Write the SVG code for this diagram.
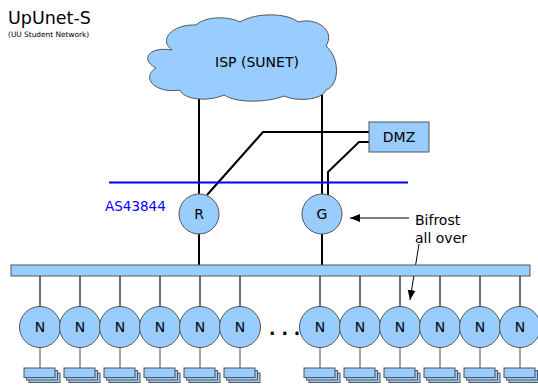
<svg xmlns="http://www.w3.org/2000/svg" width="538" height="385" viewBox="0 0 538 385">
<style>
text{font-family:"DejaVu Sans","Liberation Sans",sans-serif;fill:#000}
.shape{fill:#99ccff;stroke:#555;stroke-width:1}
.thick{stroke:#000;stroke-width:2;fill:none}
.bus-link{stroke:#222;stroke-width:1.3;fill:none}
.stack-link{stroke:#444;stroke-width:1;fill:none}
.lbl{font-size:14px;text-anchor:middle}
.thin{stroke:#000;stroke-width:1;fill:none}
</style>
<defs>
<marker id="ah" viewBox="0 0 10 10" refX="10" refY="5" markerWidth="10" markerHeight="10" markerUnits="userSpaceOnUse" orient="auto">
<path d="M0,1 L10,5 L0,9 Z" fill="#000"/>
</marker>
<g id="stack">
<rect class="shape" x="5" y="5" width="31" height="9.5"/>
<rect class="shape" x="2.5" y="2.5" width="31" height="9.5"/>
<rect class="shape" x="0" y="0" width="31" height="9.5"/>
</g>
</defs>
<g id="title">
<text x="8" y="24" style="font-size:17.5px">UpUnet-S</text>
<text x="8" y="37" style="font-size:7.4px">(UU Student Network)</text>
</g>
<g id="connectors">
<path class="thick" d="M199,80 V194"/>
<path class="thick" d="M322,80 V194"/>
<path class="thick" d="M369,132 H263 L207,195"/>
<path class="thick" d="M369,142 H359 L328,172 V195"/>
<path class="thick" d="M199,234 V265"/>
<path class="thick" d="M322,234 V265"/>
<line x1="109" y1="182.5" x2="408" y2="182.5" stroke="#0000ff" stroke-width="2"/>
<path class="thin" d="M409,218 H350" marker-end="url(#ah)"/>
<path class="thin" d="M419,244 L410,300" marker-end="url(#ah)"/>
<g id="n-links">
<path class="bus-link" d="M40,276V307M80,276V307M120,276V307M160,276V307M200,276V307M240,276V307M320,276V307M360,276V307M400,276V307M440,276V307M480,276V307M520,276V307"/>
<path class="stack-link" d="M40,348V368M80,348V368M120,348V368M160,348V368M200,348V368M240,348V368M320,348V368M360,348V368M400,348V368M440,348V368M480,348V368M520,348V368"/>
</g>
</g>
<g id="isp">
<path class="shape" d="M172,50 C158,40 172,24 196,25 C206,16 228,16 240,22 C256,12 288,13 298,22 C316,17 336,30 326,46 C340,58 340,85 326,90 C322,100 298,102 284,96 C266,103 236,103 224,95 C208,102 184,100 180,90 C156,94 140,78 156,68 C140,60 148,46 172,50 Z"/>
<text class="lbl" x="257" y="67">ISP (SUNET)</text>
</g>
<g id="dmz">
<rect class="shape" x="369" y="122" width="60" height="30"/>
<text class="lbl" x="399" y="142">DMZ</text>
</g>
<g id="as">
<text x="105" y="211" style="font-size:13.5px;fill:#0000ff">AS43844</text>
</g>
<g id="R">
<circle class="shape" cx="199" cy="214" r="20"/>
<text class="lbl" x="199" y="219">R</text>
</g>
<g id="G">
<circle class="shape" cx="322" cy="214" r="20"/>
<text class="lbl" x="322" y="219">G</text>
</g>
<g id="bifrost">
<text x="415" y="225" style="font-size:14px">Bifrost</text>
<text x="415" y="243" style="font-size:14px">all over</text>
</g>
<g id="bus">
<rect class="shape" x="11" y="265" width="519" height="11"/>
</g>
<g id="nodes">
<g id="n1"><circle class="shape" cx="40" cy="327" r="20.5"/><text class="lbl" x="40" y="332">N</text><use href="#stack" x="24" y="368"/></g>
<g id="n2"><circle class="shape" cx="80" cy="327" r="20.5"/><text class="lbl" x="80" y="332">N</text><use href="#stack" x="64" y="368"/></g>
<g id="n3"><circle class="shape" cx="120" cy="327" r="20.5"/><text class="lbl" x="120" y="332">N</text><use href="#stack" x="104" y="368"/></g>
<g id="n4"><circle class="shape" cx="160" cy="327" r="20.5"/><text class="lbl" x="160" y="332">N</text><use href="#stack" x="144" y="368"/></g>
<g id="n5"><circle class="shape" cx="200" cy="327" r="20.5"/><text class="lbl" x="200" y="332">N</text><use href="#stack" x="184" y="368"/></g>
<g id="n6"><circle class="shape" cx="240" cy="327" r="20.5"/><text class="lbl" x="240" y="332">N</text><use href="#stack" x="224" y="368"/></g>
<g id="n7"><circle class="shape" cx="320" cy="327" r="20.5"/><text class="lbl" x="320" y="332">N</text><use href="#stack" x="304" y="368"/></g>
<g id="n8"><circle class="shape" cx="360" cy="327" r="20.5"/><text class="lbl" x="360" y="332">N</text><use href="#stack" x="344" y="368"/></g>
<g id="n9"><circle class="shape" cx="400" cy="327" r="20.5"/><text class="lbl" x="400" y="332">N</text><use href="#stack" x="384" y="368"/></g>
<g id="n10"><circle class="shape" cx="440" cy="327" r="20.5"/><text class="lbl" x="440" y="332">N</text><use href="#stack" x="424" y="368"/></g>
<g id="n11"><circle class="shape" cx="480" cy="327" r="20.5"/><text class="lbl" x="480" y="332">N</text><use href="#stack" x="464" y="368"/></g>
<g id="n12"><circle class="shape" cx="520" cy="327" r="20.5"/><text class="lbl" x="520" y="332">N</text><use href="#stack" x="504" y="368"/></g>
</g>
<g id="dots">
<text x="269" y="335" style="font-size:17px;font-weight:bold">. . .</text>
</g>
</svg>
